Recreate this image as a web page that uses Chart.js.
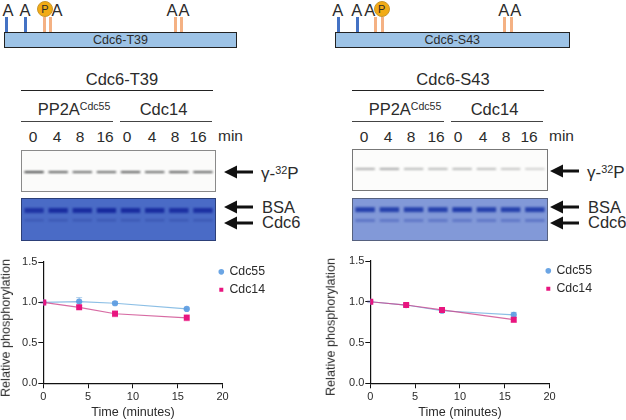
<!DOCTYPE html>
<html>
<head>
<meta charset="utf-8">
<script src="https://cdn.jsdelivr.net/npm/chart.js@4"></script>
<style>
html, body { margin: 0; padding: 0; background: #fff; }
body { position: relative; width: 626px; height: 420px; overflow: hidden; font-family: "Liberation Sans", Arial, sans-serif; color: #2b2b2b; }
.t { position: absolute; white-space: nowrap; transform: translate(-50%, -50%); line-height: 1; }
.l { position: absolute; white-space: nowrap; transform: translate(0, -50%); line-height: 1; }
.v { position: absolute; white-space: nowrap; transform: translate(-50%, -50%) rotate(-90deg); line-height: 1; }
.b { position: absolute; }
sup { font-size: 0.64em; line-height: 0; vertical-align: 0.42em; }
canvas { position: absolute; }
.gel { position: absolute; overflow: hidden; box-sizing: border-box; }
.gel canvas { filter: blur(0.8px); }
</style>
</head>
<body>
<script>
// line chart data
var times = [0, 4, 8, 16];
var seriesNames = ['Cdc55', 'Cdc14'];
var t39Cdc55 = [1.0, 1.01, 0.99, 0.92];
var t39Cdc14 = [1.0, 0.94, 0.86, 0.81];
var t39Cdc55Err = [0.01, 0.05, 0.02, 0.01];
var t39Cdc14Err = [0.01, 0.02, 0.04, 0.04];
var s43Cdc55 = [1.0, 0.96, 0.89, 0.84];
var s43Cdc14 = [1.0, 0.96, 0.90, 0.78];
var s43Cdc55Err = [0.01, 0.02, 0.02, 0.03];
var s43Cdc14Err = [0.01, 0.02, 0.02, 0.03];
var yTicks = [0, 0.5, 1, 1.5];

// gel lanes and band strengths
var lanes = ['0', '4', '8', '16', '0', '4', '8', '16'];
var t39Signal = [1, 0.85, 0.8, 0.8, 0.88, 0.8, 0.88, 0.85];
var t39Bsa = [0.8, 0.9, 0.9, 0.95, 0.9, 0.9, 0.85, 0.85];
var t39Cdc6 = [0.45, 0.5, 0.5, 0.5, 0.5, 0.5, 0.5, 0.5];
var s43Signal = [0.42, 0.46, 0.36, 0.36, 0.36, 0.34, 0.3, 0.24];
var s43Bsa = [0.85, 0.85, 0.85, 0.85, 0.9, 0.85, 0.85, 0.85];
var s43Cdc6 = [0.5, 0.45, 0.45, 0.45, 0.45, 0.45, 0.45, 0.5];

function addHtml(html) {
  document.body.insertAdjacentHTML('beforeend', html);
}

function addText(html, cx, cy, size, cls) {
  addHtml('<div class="' + (cls || 't') + '" style="left:' + cx + 'px;top:' + cy + 'px;font-size:' + size + 'px">' + html + '</div>');
}

function addBox(x, y, w, h, style) {
  addHtml('<div class="b" style="left:' + x + 'px;top:' + y + 'px;width:' + w + 'px;height:' + h + 'px;' + style + '"></div>');
}

function addArrow(x, y) {
  addHtml('<svg class="b" style="left:' + x + 'px;top:' + (y - 7) + 'px" width="30" height="14"><polygon points="0,7 13,0.5 13,5.6 29,5.6 29,8.4 13,8.4 13,13.5" fill="#111"/></svg>');
}

function drawSchema(name, barX, barW, aXs, blueXs, orangeXs, circleX) {
  addBox(barX, 31.5, barW, 16.5, 'box-sizing:border-box;background:#9dc3e6;border:1.6px solid #222');
  addText(name, barX + barW / 2, 40, 12.5);
  for (var i = 0; i < blueXs.length; i++) {
    addBox(blueXs[i] - 1.5, 17, 3, 14.5, 'background:#4472c4');
  }
  for (var j = 0; j < orangeXs.length; j++) {
    addBox(orangeXs[j] - 1.5, 17, 3, 14.5, 'background:#f4b183');
  }
  for (var k = 0; k < aXs.length; k++) {
    addText('A', aXs[k], 10, 16.5);
  }
  addHtml('<div class="t" style="left:' + circleX + 'px;top:9.3px;width:14px;height:14px;border-radius:50%;background:#f2ab14;border:1.5px solid #c9962c;font-size:11px;line-height:14px;text-align:center">P</div>');
}

function drawHeader(name, dx) {
  addText(name, 122 + dx, 79, 16.5);
  addBox(21 + dx, 89.6, 192, 1, 'background:#222');
  addText('PP2A<sup>Cdc55</sup>', 74 + dx, 109, 16.5);
  addText('Cdc14', 163.5 + dx, 109, 16.5);
  addBox(21 + dx, 120.5, 92, 1, 'background:#444');
  addBox(120 + dx, 120.5, 92, 1, 'background:#444');
  var laneX = [33, 57, 80, 105, 127, 152, 175, 198];
  for (var i = 0; i < lanes.length; i++) {
    addText(lanes[i], laneX[i] + dx, 137, 15.5);
  }
  addText('min', 218 + dx, 136, 15.5, 'l');
}

function drawLabels(dx, signalY) {
  addArrow(224 + dx, signalY);
  addText('\u03b3-<sup>32</sup>P', 261 + dx, signalY + 1, 17, 'l');
  addArrow(224 + dx, 207);
  addText('BSA', 262 + dx, 207, 16.5, 'l');
  addArrow(224 + dx, 223);
  addText('Cdc6', 262 + dx, 222, 16.5, 'l');
}

// one gel panel: every band is a floating bar in its lane
function gelChart(x, y, w, h, bg, border, bands) {
  var id = 'gel' + x + '_' + y;
  addHtml('<div class="gel" style="left:' + x + 'px;top:' + y + 'px;width:' + w + 'px;height:' + h + 'px;background:' + bg + ';border:' + border + '"><canvas id="' + id + '"></canvas></div>');
  var datasets = bands.map(function (band) {
    return {
      data: lanes.map(function () { return [band.low, band.high]; }),
      backgroundColor: band.strength.map(function (s) {
        return 'rgba(' + band.rgb + ',' + s + ')';
      }),
      barPercentage: 0.8,
      categoryPercentage: 1,
      grouped: false
    };
  });
  var names = lanes.map(function (l, i) { return 'lane' + i; });
  var c = document.getElementById(id);
  c.width = w - 2;
  c.height = h - 2;
  new Chart(c, {
    type: 'bar',
    data: { labels: names, datasets: datasets },
    options: {
      responsive: false,
      animation: false,
      plugins: { legend: { display: false }, tooltip: { enabled: false } },
      scales: {
        x: { display: false },
        y: { display: false, min: 0, max: 100 }
      }
    }
  });
}

// faint error bars behind the markers
var errorBars = {
  id: 'errorBars',
  beforeDatasetsDraw: function (chart) {
    var ctx = chart.ctx;
    var xs = chart.scales.x;
    var ys = chart.scales.y;
    chart.data.datasets.forEach(function (ds) {
      ctx.save();
      ctx.strokeStyle = ds.errColor;
      ctx.lineWidth = 1;
      ds.err.forEach(function (e, i) {
        var px = xs.getPixelForValue(ds.data[i].x);
        var top = ys.getPixelForValue(ds.data[i].y + e);
        var bot = ys.getPixelForValue(ds.data[i].y - e);
        ctx.beginPath();
        ctx.moveTo(px, top);
        ctx.lineTo(px, bot);
        ctx.moveTo(px - 3, top);
        ctx.lineTo(px + 3, top);
        ctx.moveTo(px - 3, bot);
        ctx.lineTo(px + 3, bot);
        ctx.stroke();
      });
      ctx.restore();
    });
  }
};

// the legend sits right up against the plot, closer than the layout allows
var legendNudge = {
  id: 'legendNudge',
  afterLayout: function (chart) {
    chart.legend.left -= 9;
    chart.legend.top -= 2;
  }
};

function toPoints(values) {
  return times.map(function (t, i) { return { x: t, y: values[i] }; });
}

function lineChart(left, width, axisW, topPad, cdc55, cdc55Err, cdc14, cdc14Err) {
  var id = 'line' + left;
  addHtml('<canvas id="' + id + '" width="' + width + '" height="170" style="left:' + left + 'px;top:250px;width:' + width + 'px;height:170px"></canvas>');
  var font = { family: '"Liberation Sans", Arial, sans-serif', size: 11 };
  var titleFont = { family: '"Liberation Sans", Arial, sans-serif', size: 12.6 };
  new Chart(document.getElementById(id), {
    type: 'line',
    data: {
      datasets: [
        {
          label: seriesNames[1], data: toPoints(cdc14), err: cdc14Err, errColor: 'rgba(230,0,126,0.2)',
          borderColor: 'rgba(205,70,140,0.8)', borderWidth: 1.2,
          backgroundColor: '#e8157f', pointStyle: 'rect', pointRadius: 4.2, pointBorderWidth: 0, tension: 0
        },
        {
          label: seriesNames[0], data: toPoints(cdc55), err: cdc55Err, errColor: 'rgba(91,155,213,0.45)',
          borderColor: 'rgba(120,180,225,0.85)', borderWidth: 1.2,
          backgroundColor: 'rgba(91,155,225,0.9)', pointStyle: 'circle', pointRadius: 3.1, pointBorderWidth: 0, tension: 0
        }
      ]
    },
    options: {
      responsive: false,
      animation: false,
      layout: { padding: { top: topPad, left: 0, right: 0, bottom: 0 } },
      plugins: {
        tooltip: { enabled: false },
        legend: {
          position: 'right',
          align: 'start',
          reverse: true,
          labels: {
            usePointStyle: true, boxWidth: 4, boxHeight: 4, padding: 5.7,
            color: '#2b2b2b', font: { family: font.family, size: 12.3 }
          }
        }
      },
      scales: {
        x: {
          type: 'linear', min: 0, max: 20,
          afterFit: function (s) { s.height = 36.7; },
          grid: { drawOnChartArea: false, tickLength: 5, color: '#111' },
          border: { color: '#111', width: 1.2 },
          ticks: { stepSize: 5, maxRotation: 0, padding: 2, color: '#2b2b2b', font: font },
          title: { display: true, text: 'Time (minutes)', color: '#2b2b2b', font: titleFont, padding: { top: 3, bottom: 0 } }
        },
        y: {
          min: 0, max: 1.5,
          afterFit: function (s) { s.width = axisW; },
          afterBuildTicks: function (s) { s.ticks = yTicks.map(function (v) { return { value: v }; }); },
          grid: { drawOnChartArea: false, tickLength: 5, color: '#111' },
          border: { color: '#111', width: 1.2 },
          ticks: {
            padding: 1, color: '#2b2b2b', font: font,
            callback: function (v) { return v.toFixed(1); }
          }
        }
      }
    },
    plugins: [errorBars, legendNudge]
  });
}

drawSchema('Cdc6-T39', 4, 233, [8, 25, 57, 172, 184], [6.7, 25.3], [44, 50.3, 175.3, 181.7], 45);
drawSchema('Cdc6-S43', 335, 234.5, [337.7, 356.7, 369.7, 503.7, 515.7], [338, 357], [375.3, 382, 504.7, 511], 381.7);

drawHeader('Cdc6-T39', 0);
drawHeader('Cdc6-S43', 331);

gelChart(21, 150, 195, 42, '#fbfbfa', '1px solid #8a8a8a', [
  { low: 45, high: 49.5, strength: t39Signal, rgb: '45,47,47' }
]);
gelChart(21, 198, 195, 43, '#4a6bc6', '1px solid #2c3f78', [
  { low: 66, high: 78, strength: t39Bsa, rgb: '20,38,155' },
  { low: 46, high: 50, strength: t39Cdc6, rgb: '35,55,150' }
]);
gelChart(352, 149, 196, 42, '#fcfcfb', '1px solid #777', [
  { low: 50.5, high: 55, strength: s43Signal, rgb: '45,47,47' }
]);
gelChart(352, 198, 196, 43, '#8299d8', '1px solid #56617f', [
  { low: 68, high: 80, strength: s43Bsa, rgb: '22,50,165' },
  { low: 44, high: 51, strength: s43Cdc6, rgb: '55,80,180' }
]);

drawLabels(0, 172);
drawLabels(326, 171);

lineChart(0, 284, 43.3, 12, t39Cdc55, t39Cdc55Err, t39Cdc14, t39Cdc14Err);
lineChart(313, 298, 57.3, 11, s43Cdc55, s43Cdc55Err, s43Cdc14, s43Cdc14Err);

addText('Relative phosphorylation', 5.5, 327.5, 12.6, 'v');
addText('Relative phosphorylation', 330.5, 326.5, 12.6, 'v');
</script>
</body>
</html>
